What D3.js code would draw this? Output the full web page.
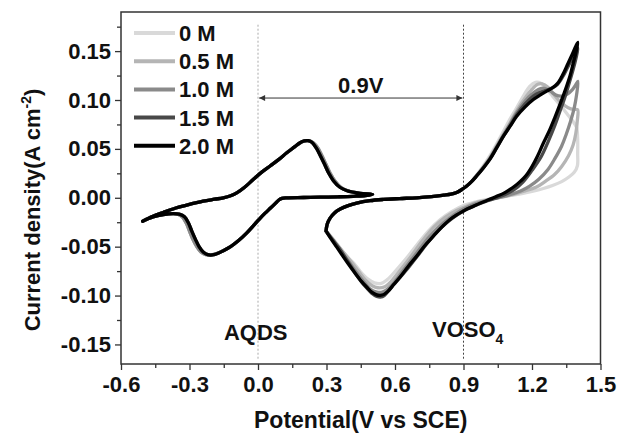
<!DOCTYPE html>
<meta charset="utf-8">
<style>
body { margin: 0; background: #fff; }
svg { display: block; }
text { font-family: "Liberation Sans", Arial, Helvetica, sans-serif; font-weight: bold; fill: #111; }
.axis text { font-size: 22px; }
.axis line { stroke: #333; stroke-width: 1.3px; }
.axis path { display: none; }
.curve { fill: none; stroke-linejoin: round; stroke-linecap: round; }
</style>
<div id="chart"></div>
<script src="https://cdn.jsdelivr.net/npm/d3@7"></script>
<script>

// concentrations (legend) and the grey used for each one
var seriesNames = ["0 M", "0.5 M", "1.0 M", "1.5 M", "2.0 M"];
var seriesColors = ["#d9d9d9", "#b5b5b5", "#8a8a8a", "#484848", "#000000"];

// axis ticks
var xTicks = [-0.6, -0.3, 0.0, 0.3, 0.6, 0.9, 1.2, 1.5];
var xMinorTicks = [-0.45, -0.15, 0.15, 0.45, 0.75, 1.05, 1.35];
var yTicks = [-0.15, -0.10, -0.05, 0.00, 0.05, 0.10, 0.15];
var yMinorTicks = [-0.125, -0.075, -0.025, 0.025, 0.075, 0.125, 0.175];

// AQDS loop [potential V, current A cm-2] : upper (anodic) branch, then return
var aqdsLoopDark = [
  [-0.505,-0.024],[-0.46,-0.019],[-0.415,-0.015],[-0.36,-0.0105],[-0.312,-0.0075],[-0.24,-0.0035],
  [-0.19,-0.0015],[-0.152,0.0],[-0.12,0.002],[-0.093,0.005],[-0.06,0.0105],[-0.021,0.0187],
  [0.015,0.026],[0.053,0.0325],[0.09,0.039],[0.126,0.046],[0.16,0.052],[0.184,0.0563],
  [0.203,0.0582],[0.22,0.0584],[0.237,0.0565],[0.255,0.051],[0.273,0.043],[0.292,0.034],
  [0.31,0.025],[0.33,0.0175],[0.36,0.0105],[0.39,0.0072],[0.447,0.0046],[0.502,0.0035],
  [0.47,0.0022],[0.417,0.0015],[0.35,0.001],[0.272,0.0006],[0.2,0.0003],[0.126,0.0],
  [0.105,-0.0006],[0.09,-0.0025],[0.075,-0.006],[0.055,-0.0105],[0.03,-0.016],[0.005,-0.022],
  [-0.02,-0.0285],[-0.05,-0.0362],[-0.085,-0.0438],[-0.12,-0.0500],[-0.155,-0.0545],[-0.18,-0.0572],
  [-0.2,-0.0585],[-0.22,-0.0582],[-0.24,-0.0555],[-0.258,-0.050],[-0.274,-0.0425],[-0.29,-0.034],
  [-0.305,-0.0255],[-0.322,-0.0195],[-0.345,-0.0168],[-0.37,-0.0162],[-0.415,-0.0172],[-0.46,-0.0197],
  [-0.505,-0.024]
];
var aqdsLoopLight = [
  [-0.505,-0.024],[-0.46,-0.019],[-0.415,-0.015],[-0.36,-0.0105],[-0.312,-0.0075],[-0.24,-0.0035],
  [-0.19,-0.0015],[-0.152,0.0],[-0.12,0.002],[-0.093,0.005],[-0.06,0.0105],[-0.021,0.0187],
  [0.015,0.026],[0.053,0.0325],[0.09,0.039],[0.126,0.046],[0.16,0.052],[0.186,0.0563],
  [0.206,0.0582],[0.224,0.0582],[0.242,0.0562],[0.262,0.051],[0.28,0.043],[0.298,0.034],
  [0.316,0.025],[0.336,0.0175],[0.364,0.0105],[0.393,0.0072],[0.447,0.0046],[0.502,0.0035],
  [0.47,0.0022],[0.417,0.0015],[0.35,0.001],[0.272,0.0006],[0.2,0.0003],[0.126,0.0],
  [0.105,-0.0006],[0.09,-0.0025],[0.075,-0.006],[0.055,-0.0105],[0.03,-0.016],[0.005,-0.022],
  [-0.02,-0.0285],[-0.05,-0.0362],[-0.085,-0.0438],[-0.12,-0.0500],[-0.155,-0.0545],[-0.185,-0.0572],
  [-0.208,-0.0585],[-0.228,-0.0582],[-0.25,-0.0555],[-0.268,-0.050],[-0.285,-0.0425],[-0.3,-0.034],
  [-0.315,-0.0255],[-0.332,-0.0195],[-0.352,-0.0168],[-0.375,-0.0162],[-0.415,-0.0172],[-0.46,-0.0197],
  [-0.505,-0.024]
];

// VOSO4 loop: common foot of the anodic sweep from 0.3 V
var voAnodicFoot = [
  [0.298,-0.034],[0.303,-0.027],[0.315,-0.021],[0.335,-0.0155],[0.36,-0.0115],[0.395,-0.008],
  [0.432,-0.0055],[0.49,-0.003],[0.549,-0.0017],[0.62,-0.0008],[0.695,0.0],[0.76,0.0012],
  [0.812,0.0027],[0.845,0.0038],[0.87,0.0055],[0.893,0.0085],[0.914,0.012],[0.935,0.0165]
];
// rest of the anodic sweep up to 1.4 V, one per concentration
var voAnodic0M = [
  [0.958,0.0235],[0.985,0.032],[1.016,0.043],[1.045,0.055],[1.075,0.068],[1.105,0.081],[1.133,0.092],
  [1.165,0.105],[1.19,0.114],[1.215,0.118],[1.24,0.117],[1.265,0.111],[1.29,0.104],[1.315,0.097],
  [1.34,0.09],[1.36,0.084],[1.38,0.078],[1.395,0.072],[1.4,0.06],[1.4,0.045],[1.399,0.033]
];
var voAnodic05M = [
  [0.958,0.023],[0.985,0.031],[1.016,0.041],[1.045,0.053],[1.075,0.065],[1.105,0.077],[1.133,0.089],
  [1.17,0.102],[1.2,0.111],[1.225,0.116],[1.245,0.1165],[1.27,0.113],[1.295,0.106],[1.32,0.099],
  [1.345,0.094],[1.37,0.091],[1.39,0.0905],[1.4,0.09]
];
var voAnodic10M = [
  [0.958,0.0225],[0.985,0.0305],[1.016,0.0405],[1.045,0.052],[1.075,0.064],[1.105,0.076],[1.133,0.087],
  [1.17,0.099],[1.2,0.106],[1.23,0.111],[1.255,0.112],[1.28,0.109],[1.305,0.105],[1.33,0.104],
  [1.355,0.106],[1.375,0.11],[1.39,0.115],[1.401,0.119]
];
var voAnodic15M = [
  [0.958,0.0225],[0.985,0.030],[1.016,0.0398],[1.045,0.051],[1.075,0.063],[1.105,0.074],[1.133,0.085],
  [1.17,0.096],[1.206,0.104],[1.235,0.108],[1.264,0.11],[1.29,0.1125],[1.312,0.116],[1.335,0.124],
  [1.355,0.133],[1.375,0.142],[1.39,0.149],[1.401,0.153]
];
var voAnodic20M = [
  [0.958,0.0225],[0.985,0.030],[1.016,0.0395],[1.045,0.051],[1.075,0.063],[1.105,0.0735],[1.133,0.0834],
  [1.17,0.093],[1.206,0.1005],[1.235,0.105],[1.264,0.109],[1.29,0.1125],[1.312,0.117],[1.335,0.126],
  [1.355,0.136],[1.375,0.146],[1.392,0.155],[1.401,0.159]
];
// cathodic sweep from 1.4 V back to 0.3 V, one per concentration
var voCathodic0M = [
  [1.385,0.026],[1.36,0.021],[1.33,0.0165],[1.29,0.0125],[1.25,0.0095],[1.2,0.0065],[1.15,0.004],
  [1.1,0.002],[1.05,0.0],[1.0,-0.002],[0.95,-0.0045],[0.9,-0.008],[0.85,-0.014],[0.8,-0.022],
  [0.75,-0.033],[0.7,-0.047],[0.65,-0.062],[0.6,-0.0755],[0.565,-0.084],[0.54,-0.0875],[0.51,-0.087],
  [0.48,-0.083],[0.45,-0.076],[0.42,-0.067],[0.385,-0.059],[0.355,-0.05],[0.325,-0.041],[0.298,-0.034]
];
var voCathodic05M = [
  [1.398,0.078],[1.392,0.066],[1.38,0.054],[1.36,0.043],[1.33,0.032],[1.3,0.024],[1.26,0.017],
  [1.22,0.011],[1.17,0.007],[1.12,0.0035],[1.07,0.001],[1.02,-0.0015],[0.97,-0.004],[0.92,-0.008],
  [0.87,-0.013],[0.82,-0.02],[0.77,-0.03],[0.72,-0.044],[0.67,-0.06],[0.62,-0.075],[0.585,-0.085],
  [0.555,-0.091],[0.525,-0.092],[0.5,-0.09],[0.47,-0.084],[0.44,-0.075],[0.41,-0.066],[0.375,-0.056],
  [0.34,-0.046],[0.298,-0.034]
];
var voCathodic10M = [
  [1.395,0.105],[1.385,0.092],[1.37,0.079],[1.35,0.065],[1.33,0.053],[1.3,0.04],[1.27,0.029],
  [1.23,0.019],[1.19,0.012],[1.15,0.007],[1.1,0.003],[1.05,0.0],[1.0,-0.003],[0.95,-0.0065],
  [0.9,-0.0115],[0.85,-0.019],[0.8,-0.028],[0.75,-0.04],[0.7,-0.055],[0.65,-0.07],[0.605,-0.084],
  [0.575,-0.092],[0.545,-0.0965],[0.52,-0.0965],[0.49,-0.093],[0.46,-0.085],[0.43,-0.076],
  [0.4,-0.066],[0.365,-0.055],[0.33,-0.044],[0.298,-0.034]
];
var voCathodic15M = [
  [1.392,0.142],[1.38,0.131],[1.36,0.115],[1.34,0.1],[1.32,0.087],[1.3,0.074],[1.27,0.057],
  [1.24,0.042],[1.2,0.028],[1.16,0.016],[1.12,0.008],[1.08,0.003],[1.04,-0.0005],[1.0,-0.0035],
  [0.95,-0.008],[0.9,-0.0135],[0.85,-0.021],[0.8,-0.031],[0.75,-0.044],[0.7,-0.059],[0.66,-0.071],
  [0.62,-0.082],[0.59,-0.09],[0.565,-0.097],[0.545,-0.1012],[0.52,-0.101],[0.5,-0.098],[0.475,-0.092],
  [0.45,-0.085],[0.42,-0.075],[0.39,-0.064],[0.36,-0.053],[0.325,-0.0425],[0.298,-0.034]
];
var voCathodic20M = [
  [1.392,0.148],[1.381,0.138],[1.367,0.125],[1.35,0.113],[1.325,0.097],[1.3,0.082],[1.275,0.068],
  [1.25,0.056],[1.225,0.043],[1.2,0.032],[1.175,0.023],[1.15,0.017],[1.125,0.012],[1.1,0.008],
  [1.075,0.0045],[1.05,0.002],[1.025,-0.0006],[1.0,-0.003],[0.97,-0.0058],[0.943,-0.0088],
  [0.92,-0.011],[0.9,-0.0135],[0.87,-0.0175],[0.841,-0.0222],[0.805,-0.030],[0.768,-0.0393],
  [0.73,-0.049],[0.695,-0.0597],[0.66,-0.0695],[0.625,-0.0802],[0.595,-0.0885],[0.57,-0.0955],
  [0.552,-0.0988],[0.535,-0.0998],[0.517,-0.099],[0.498,-0.0965],[0.477,-0.0915],[0.453,-0.0855],
  [0.423,-0.0765],[0.392,-0.0665],[0.367,-0.058],[0.345,-0.0505],[0.32,-0.042],[0.298,-0.034]
];

var width = 617, height = 435;
var plotLeft = 121, plotRight = 600.5, plotTop = 12, plotBottom = 364;

var x = d3.scaleLinear().domain([-0.6, 1.5]).range([plotLeft, plotRight]);
var y = d3.scaleLinear().domain([-0.17, 0.19]).range([plotBottom, plotTop]);

var svg = d3.select("#chart").append("svg")
    .attr("width", width)
    .attr("height", height);

// AQDS loop + VOSO4 loop for each concentration
var aqdsLoops = [aqdsLoopLight, aqdsLoopLight, aqdsLoopLight, aqdsLoopDark, aqdsLoopDark];
var voAnodic = [voAnodic0M, voAnodic05M, voAnodic10M, voAnodic15M, voAnodic20M];
var voCathodic = [voCathodic0M, voCathodic05M, voCathodic10M, voCathodic15M, voCathodic20M];
var series = seriesNames.map((name, i) => ({
  name: name,
  color: seriesColors[i],
  loops: [aqdsLoops[i], voAnodicFoot.concat(voAnodic[i], voCathodic[i])]
}));

// reference lines at 0.0 V and 0.9 V
var guides = [{v: 0.0, c: "#aaa"}, {v: 0.9, c: "#444"}];
svg.selectAll("line.guide").data(guides).enter().append("line")
    .attr("class", "guide")
    .attr("x1", d => x(d.v)).attr("x2", d => x(d.v))
    .attr("y1", y(0.177)).attr("y2", y(-0.165))
    .attr("stroke", d => d.c)
    .attr("stroke-width", 1)
    .attr("stroke-dasharray", "2,2");

var line = d3.line()
    .x(d => x(d[0]))
    .y(d => y(d[1]))
    .curve(d3.curveCatmullRom.alpha(0.5));

var sg = svg.selectAll("g.series").data(series).enter().append("g").attr("class", "series");
sg.selectAll("path").data(d => d.loops.map(l => ({pts: l, color: d.color}))).enter().append("path")
    .attr("class", "curve")
    .attr("d", d => line(d.pts))
    .attr("stroke", d => d.color)
    .attr("stroke-width", 3.3);

// axes
svg.append("g").attr("class", "axis")
    .attr("transform", `translate(0,${plotBottom})`)
    .call(d3.axisBottom(x).tickValues(xTicks).tickSize(6).tickSizeOuter(0).tickPadding(6)
        .tickFormat(d => d.toFixed(1)));
svg.append("g").attr("class", "axis")
    .attr("transform", `translate(0,${plotBottom})`)
    .call(d3.axisBottom(x).tickValues(xMinorTicks).tickSize(4).tickSizeOuter(0).tickFormat(""));
svg.append("g").attr("class", "axis")
    .attr("transform", `translate(${plotLeft},0)`)
    .call(d3.axisLeft(y).tickValues(yTicks).tickSize(6).tickSizeOuter(0).tickPadding(4)
        .tickFormat(d => d.toFixed(2)));
svg.append("g").attr("class", "axis")
    .attr("transform", `translate(${plotLeft},0)`)
    .call(d3.axisLeft(y).tickValues(yMinorTicks).tickSize(4).tickSizeOuter(0).tickFormat(""));

svg.append("rect")
    .attr("x", plotLeft).attr("y", plotTop)
    .attr("width", plotRight - plotLeft).attr("height", plotBottom - plotTop)
    .attr("fill", "none").attr("stroke", "#333").attr("stroke-width", 1.5);

// axis titles
svg.append("text")
    .attr("x", (plotLeft + plotRight) / 2).attr("y", 428)
    .attr("text-anchor", "middle")
    .style("font-size", "23px")
    .text("Potential(V vs SCE)");

var yt = svg.append("text")
    .attr("transform", "translate(40,210) rotate(-90)")
    .attr("text-anchor", "middle")
    .style("font-size", "22px");
yt.append("tspan").text("Current density(A cm");
yt.append("tspan").attr("dy", -9).style("font-size", "14px").text("-2");
yt.append("tspan").attr("dy", 9).text(")");

// legend
var lg = svg.selectAll("g.legend").data(series).enter().append("g")
    .attr("class", "legend")
    .attr("transform", (d, i) => `translate(134,${33 + i * 28.2})`);
lg.append("line")
    .attr("x1", 0).attr("x2", 41)
    .attr("stroke", d => d.color)
    .attr("stroke-width", 4);
lg.append("text")
    .attr("x", 45).attr("dy", "0.36em")
    .style("font-size", "22px")
    .text(d => d.name);

// 0.9 V gap arrow
var defs = svg.append("defs");
["start", "end"].forEach(k => {
  defs.append("marker")
      .attr("id", "arrow-" + k)
      .attr("viewBox", "0 0 10 10")
      .attr("refX", k == "end" ? 10 : 0).attr("refY", 5)
      .attr("markerWidth", 9).attr("markerHeight", 6)
      .attr("markerUnits", "userSpaceOnUse")
      .attr("orient", "auto")
    .append("path")
      .attr("d", k == "end" ? "M0,0L10,5L0,10Z" : "M10,0L0,5L10,10Z")
      .attr("fill", "#333");
});
svg.append("line")
    .attr("x1", x(0.005)).attr("x2", x(0.895))
    .attr("y1", y(0.102)).attr("y2", y(0.102))
    .attr("stroke", "#333").attr("stroke-width", 1)
    .attr("marker-start", "url(#arrow-start)")
    .attr("marker-end", "url(#arrow-end)");
svg.append("text")
    .attr("x", x(0.45)).attr("y", 93)
    .attr("text-anchor", "middle")
    .style("font-size", "22px")
    .text("0.9V");

// species labels
svg.append("text")
    .attr("x", x(-0.01)).attr("y", 340)
    .attr("text-anchor", "middle")
    .style("font-size", "22px")
    .text("AQDS");
var vt = svg.append("text")
    .attr("x", 432).attr("y", 337)
    .style("font-size", "22px");
vt.append("tspan").text("VOSO");
vt.append("tspan").attr("dy", 7).style("font-size", "14px").text("4");

</script>
